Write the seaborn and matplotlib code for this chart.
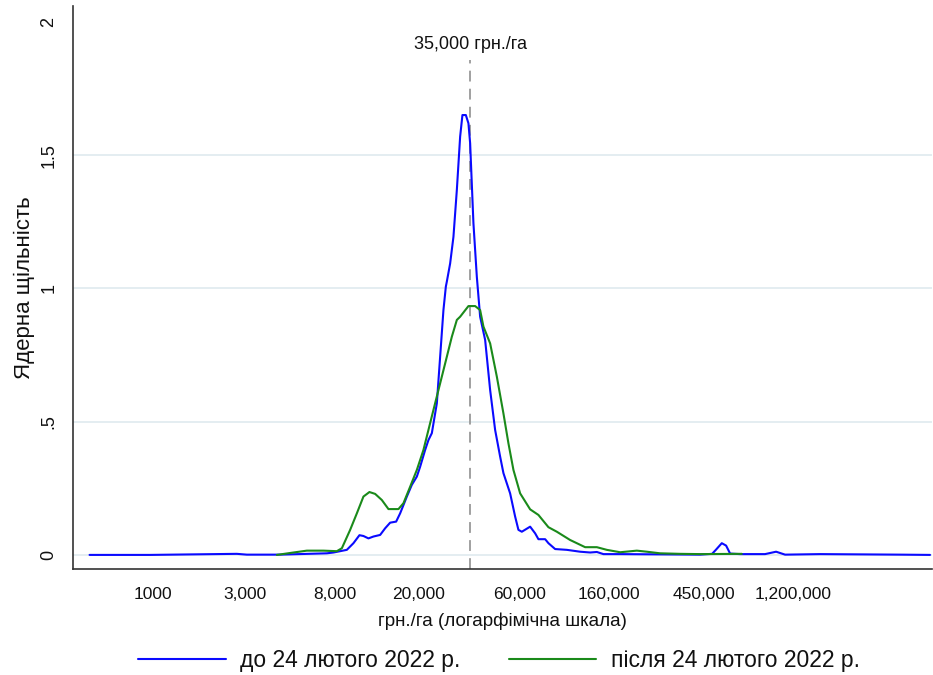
import numpy as np
import pandas as pd
import seaborn as sns
import matplotlib
matplotlib.use("Agg")
import matplotlib.pyplot as plt

# kernel density (price in UAH/ha, density)
before_price = [548, 1063, 1700, 2740, 3056, 4397, 7324, 7871, 9111, 9793, 10457, 10923,
                11537, 12186, 13111, 13848, 14623, 15614, 16311, 17550, 18534, 19576, 20295,
                21432, 22219, 23061, 24355, 25251, 26177, 26873, 27168, 28166, 29201, 30305,
                31416, 32214, 33434, 34398, 35043, 36327, 37700, 39087, 41282, 43600, 46046,
                48630, 50417, 54240, 57288, 59394, 61638, 67500, 71290, 73900, 79515, 82431,
                88691, 100800, 116550, 130020, 139900, 150330, 180450, 279240, 432300, 492900,
                514800, 547800, 574200, 600000, 669100, 879000, 991500, 1094000, 1603800,
                2482000, 3840000, 5331000]
before_dens = [0, 0, 0.002, 0.004, 0.001, 0.001, 0.006, 0.009, 0.019, 0.044, 0.074, 0.071,
               0.062, 0.069, 0.075, 0.1, 0.121, 0.125, 0.156, 0.219, 0.263, 0.294, 0.331,
               0.394, 0.431, 0.457, 0.569, 0.744, 0.919, 1.007, 1.026, 1.094, 1.194, 1.37,
               1.57, 1.651, 1.651, 1.62, 1.545, 1.245, 1.044, 0.894, 0.807, 0.619, 0.469,
               0.369, 0.307, 0.231, 0.144, 0.094, 0.087, 0.106, 0.081, 0.059, 0.059, 0.044,
               0.022, 0.019, 0.012, 0.009, 0.011, 0.003, 0.003, 0.002, 0.001, 0.004,
               0.02, 0.044, 0.035, 0.005, 0.003, 0.003, 0.012, 0.001, 0.003,
               0.002, 0.001, 0]

after_price = [4241, 5084, 5886, 7057, 8168, 8628, 9447, 10164, 10923, 11663, 12413, 13356,
               14356, 16011, 16911, 18195, 19576, 21040, 22219, 23466, 25251, 27168, 28693,
               30305, 31416, 34398, 37008, 39087, 40522, 43600, 46914, 50417, 53246, 56238,
               60510, 67500, 73900, 82431, 90350, 104460, 123100, 139900, 156000, 180450,
               216500, 241500, 279240, 347500, 432300, 681600]
after_dens = [0, 0.009, 0.016, 0.016, 0.014, 0.025, 0.094, 0.156, 0.219, 0.236, 0.229, 0.206,
              0.172, 0.172, 0.194, 0.256, 0.319, 0.394, 0.469, 0.544, 0.644, 0.744, 0.819,
              0.882, 0.894, 0.934, 0.934, 0.919, 0.857, 0.794, 0.669, 0.531, 0.419, 0.319,
              0.231, 0.171, 0.15, 0.104, 0.087, 0.056, 0.029, 0.029, 0.019, 0.01,
              0.016, 0.012, 0.006, 0.004, 0.003, 0.004]

labels = ["до 24 лютого 2022 р.", "після 24 лютого 2022 р."]
xticks = [1100, 3000, 8000, 20000, 60000, 160000, 450000, 1200000]
xticklabels = ["1000", "3,000", "8,000", "20,000", "60,000", "160,000", "450,000", "1,200,000"]
yticks = [0, 0.5, 1, 1.5, 2]
yticklabels = ["0", ".5", "1", "1.5", "2"]
ref_price = 35000

df = pd.concat([
    pd.DataFrame({"price": before_price, "density": before_dens, "period": labels[0]}),
    pd.DataFrame({"price": after_price, "density": after_dens, "period": labels[1]}),
])

sns.set_style("white")
plt.rcParams["font.family"] = ["Liberation Sans", "DejaVu Sans"]
plt.rcParams["text.color"] = "#111111"
plt.rcParams["axes.labelcolor"] = "#111111"
plt.rcParams["xtick.color"] = "#111111"
plt.rcParams["ytick.color"] = "#111111"

fig = plt.figure(figsize=(9.33, 6.75), dpi=100)
ax = fig.add_axes([0.0786, 0.1566, 0.9204, 0.8344])

for g in [0, 0.5, 1, 1.5]:
    ax.axhline(g, color="#e2ecf0", lw=1.3, zorder=0)

sns.lineplot(data=df, x="price", y="density", hue="period", estimator=None, sort=False,
             palette=["#0a0aff", "#1a8a1a"], linewidth=1.5, ax=ax)
ax.set_xscale("log")
ax.set_xlim(459, 5.45e6)
ax.set_ylim(-0.054, 2.06)

ax.axvline(ref_price, ymin=0, ymax=0.905, color="#999999", lw=1.3, ls=(0, (6, 4)), zorder=1)
ax.text(ref_price, 1.914, "35,000 грн./га", ha="center", va="center", fontsize=13)

ax.set_xticks(xticks)
ax.set_xticklabels(xticklabels, fontsize=12.5)
ax.minorticks_off()
ax.set_yticks(yticks)
ax.set_yticklabels(yticklabels, fontsize=13, rotation=90, va="center")
ax.tick_params(axis="both", length=6.5, width=1, color="#333333", direction="out")
ax.tick_params(axis="x", pad=6)
ax.tick_params(axis="y", pad=5)

for s in ["top", "right"]:
    ax.spines[s].set_visible(False)
for s in ["left", "bottom"]:
    ax.spines[s].set_color("#333333")
    ax.spines[s].set_linewidth(1.2)

ax.set_xlabel("грн./га (логарфімічна шкала)", fontsize=13.5, labelpad=8)
ax.set_ylabel("Ядерна щільність", fontsize=16, labelpad=4)

handles, lbls = ax.get_legend_handles_labels()
ax.get_legend().remove()
fig.legend(handles, lbls, loc="center", bbox_to_anchor=(0.535, 0.022), ncol=2, frameon=False,
           fontsize=16.5, handlelength=3.8, handletextpad=0.65, columnspacing=2.1)

fig.savefig("out.png", dpi=100)
